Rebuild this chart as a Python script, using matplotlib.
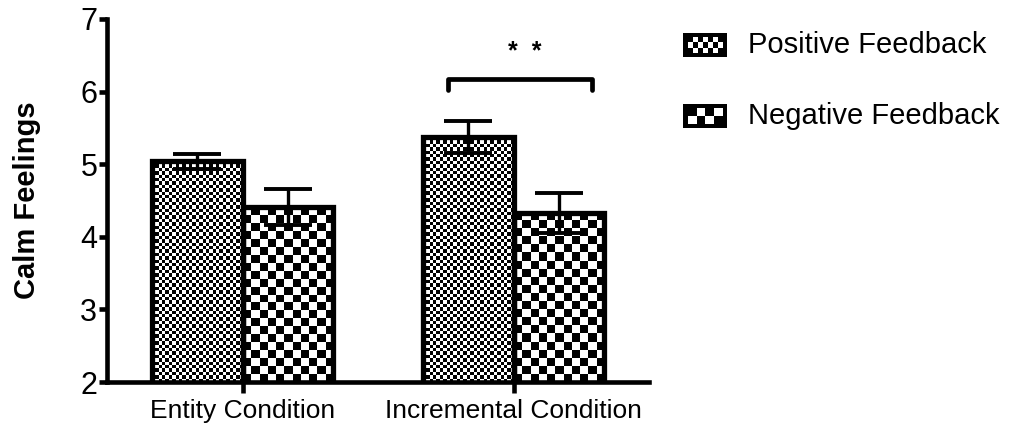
import numpy as np
import matplotlib
matplotlib.use("Agg")
import matplotlib.pyplot as plt

plt.rcParams['font.family'] = ['Liberation Sans', 'DejaVu Sans']

# ---- data ----
categories = ["Entity Condition", "Incremental Condition"]
series_labels = ["Positive Feedback", "Negative Feedback"]
positive = [5.04, 5.37]
positive_err = [0.10, 0.22]
negative = [4.41, 4.33]
negative_err = [0.25, 0.28]
y_ticks = [2, 3, 4, 5, 6, 7]
sig_label = "*  *"

W, H = 1011, 429
fig = plt.figure(figsize=(W / 100, H / 100), dpi=100)
ax = fig.add_axes([107 / W, 1 - 382 / H, 542 / W, 363 / H])

x = np.arange(len(categories))
bw = 0.335
lw_edge = 3.8

bars_pos = ax.bar(x - bw / 2, positive, bw, bottom=0, facecolor='none',
                  edgecolor='black', linewidth=lw_edge, zorder=3)
bars_neg = ax.bar(x + bw / 2, negative, bw, bottom=0, facecolor='none',
                  edgecolor='black', linewidth=lw_edge, zorder=3)

ax.set_xlim(-0.5, 1.5)
ax.set_ylim(2, 7)


def checker(ny, nx):
    return (np.add.outer(np.arange(ny), np.arange(nx)) % 2).astype(float)


def fill_checker(patch, cell_px):
    """Fill a bar with a black/white checkerboard clipped to the bar."""
    x0 = patch.get_x()
    w = patch.get_width()
    top = patch.get_height()
    y0 = ax.get_ylim()[0]
    p0 = ax.transData.transform((x0, y0))
    p1 = ax.transData.transform((x0 + w, top))
    nx = max(1, int(round(abs(p1[0] - p0[0]) / cell_px)))
    ny = max(1, int(round(abs(p1[1] - p0[1]) / cell_px)))
    img = checker(ny, nx)
    im = ax.imshow(img, cmap='gray', vmin=0, vmax=1, interpolation='nearest',
                   extent=(x0, x0 + w, y0, top), origin='lower',
                   aspect='auto', zorder=2.5)
    im.set_clip_path(patch)


fig.canvas.draw()
for p in bars_pos:
    fill_checker(p, 3.4)
for p in bars_neg:
    fill_checker(p, 8.0)
ax.set_xlim(-0.5, 1.5)
ax.set_ylim(2, 7)

# error bars
err_kw = dict(fmt='none', ecolor='black', elinewidth=2.4, capsize=17,
              capthick=2.8, zorder=4)
ax.errorbar(x - bw / 2, positive, yerr=positive_err, **err_kw)
ax.errorbar(x + bw / 2, negative, yerr=negative_err, **err_kw)

# significance bracket
bx0, bx1, by, bdrop = 0.76, 1.29, 6.17, 0.15
ax.plot([bx0, bx0, bx1, bx1], [by - bdrop, by, by, by - bdrop], color='black',
        lw=3.4, solid_capstyle='round', solid_joinstyle='round', zorder=5,
        clip_on=False)
ax.text(1.04, 6.38, sig_label, ha='center', va='bottom', fontsize=18,
        fontweight='bold')

# axes styling
for s in ['top', 'right']:
    ax.spines[s].set_visible(False)
for s in ['left', 'bottom']:
    ax.spines[s].set_linewidth(3.3)
ax.set_yticks(y_ticks)
ax.set_yticklabels([str(v) for v in y_ticks], fontsize=22)
ax.set_xticks(x)
ax.set_xticklabels(categories, fontsize=19)
ax.tick_params(axis='y', length=6, width=3.3, pad=1)
ax.tick_params(axis='x', length=8, width=3.3, pad=4)
ax.set_ylabel("Calm Feelings", fontsize=21, fontweight='bold', labelpad=28)

# legend with checkerboard swatches
legend_items = [(series_labels[0], 45, (3, 7)), (series_labels[1], 116, (2, 4))]
for label, yc, (ny, nx) in legend_items:
    sw = fig.add_axes([683 / W, 1 - (yc + 12) / H, 44 / W, 24 / H])
    sw.imshow(checker(ny, nx), cmap='gray', vmin=0, vmax=1,
              interpolation='nearest', aspect='auto',
              extent=(0, 1, 0, 1))
    sw.set_xlim(-0.14, 1.14)
    sw.set_ylim(-0.26, 1.26)
    sw.set_facecolor('black')
    sw.set_xticks([])
    sw.set_yticks([])
    for s in sw.spines.values():
        s.set_visible(False)
    fig.text(748 / W, 1 - yc / H, label, fontsize=21, va='center', ha='left')

fig.savefig("out.png", dpi=100)
